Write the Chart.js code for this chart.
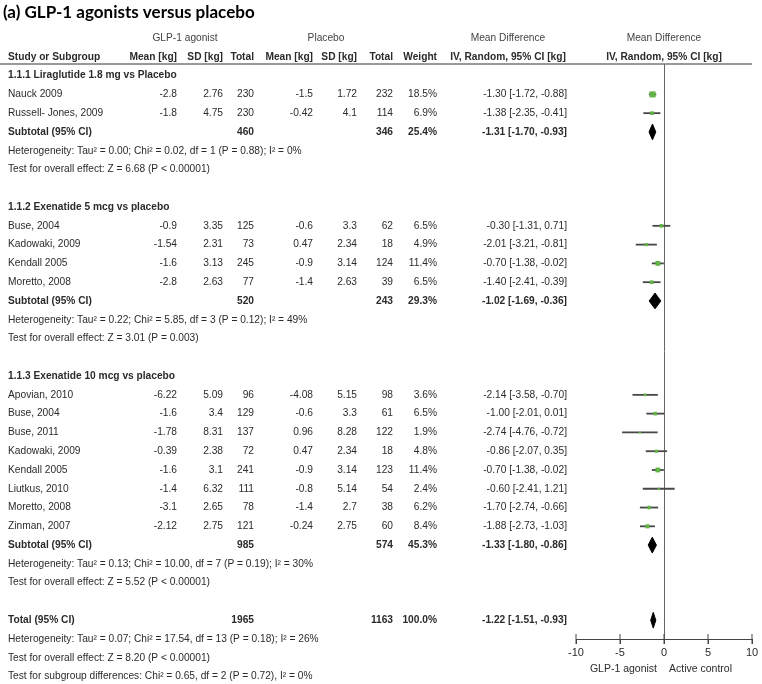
<!DOCTYPE html>
<html>
<head>
<meta charset="utf-8">
<script src="https://cdn.jsdelivr.net/npm/chart.js@4.4.1/dist/chart.umd.min.js"></script>
<style>
  html, body { margin: 0; padding: 0; background: #fff; }
  #wrap { position: relative; width: 762px; height: 684px; }
</style>
</head>
<body>
<div id="wrap"><canvas id="forest"></canvas></div>
<script>
(function () {
  'use strict';

  // ===== Data =====

  const groupTitles = [
    '1.1.1 Liraglutide 1.8 mg vs Placebo',
    '1.1.2 Exenatide 5 mcg vs placebo',
    '1.1.3 Exenatide 10 mcg vs placebo',
  ];

  const studyNames = [
    'Nauck 2009', 'Russell- Jones, 2009',
    'Buse, 2004', 'Kadowaki, 2009', 'Kendall 2005', 'Moretto, 2008',
    'Apovian, 2010', 'Buse, 2004', 'Buse, 2011', 'Kadowaki, 2009',
    'Kendall 2005', 'Liutkus, 2010', 'Moretto, 2008', 'Zinman, 2007',
  ];
  const studyGroup = [0, 0, 1, 1, 1, 1, 2, 2, 2, 2, 2, 2, 2, 2];

  const glpMean = [-2.8, -1.8, -0.9, -1.54, -1.6, -2.8, -6.22, -1.6, -1.78, -0.39, -1.6, -1.4, -3.1, -2.12];
  const glpSD = [2.76, 4.75, 3.35, 2.31, 3.13, 2.63, 5.09, 3.4, 8.31, 2.38, 3.1, 6.32, 2.65, 2.75];
  const glpTotal = [230, 230, 125, 73, 245, 77, 96, 129, 137, 72, 241, 111, 78, 121];
  const pboMean = [-1.5, -0.42, -0.6, 0.47, -0.9, -1.4, -4.08, -0.6, 0.96, 0.47, -0.9, -0.8, -1.4, -0.24];
  const pboSD = [1.72, 4.1, 3.3, 2.34, 3.14, 2.63, 5.15, 3.3, 8.28, 2.34, 3.14, 5.14, 2.7, 2.75];
  const pboTotal = [232, 114, 62, 18, 124, 39, 98, 61, 122, 18, 123, 54, 38, 60];
  const studyWeight = [18.5, 6.9, 6.5, 4.9, 11.4, 6.5, 3.6, 6.5, 1.9, 4.8, 11.4, 2.4, 6.2, 8.4];
  const mdMean = [-1.30, -1.38, -0.30, -2.01, -0.70, -1.40, -2.14, -1.00, -2.74, -0.86, -0.70, -0.60, -1.70, -1.88];
  const mdLow = [-1.72, -2.35, -1.31, -3.21, -1.38, -2.41, -3.58, -2.01, -4.76, -2.07, -1.38, -2.41, -2.74, -2.73];
  const mdHigh = [-0.88, -0.41, 0.71, -0.81, -0.02, -0.39, -0.70, 0.01, -0.72, 0.35, -0.02, 1.21, -0.66, -1.03];

  const subGlpTotal = [460, 520, 985];
  const subPboTotal = [346, 243, 574];
  const subWeight = [25.4, 29.3, 45.3];
  const subMean = [-1.31, -1.02, -1.33];
  const subLow = [-1.70, -1.69, -1.80];
  const subHigh = [-0.93, -0.36, -0.86];
  const hetText = [
    'Heterogeneity: Tau\u00b2 = 0.00; Chi\u00b2 = 0.02, df = 1 (P = 0.88); I\u00b2 = 0%',
    'Heterogeneity: Tau\u00b2 = 0.22; Chi\u00b2 = 5.85, df = 3 (P = 0.12); I\u00b2 = 49%',
    'Heterogeneity: Tau\u00b2 = 0.13; Chi\u00b2 = 10.00, df = 7 (P = 0.19); I\u00b2 = 30%',
  ];
  const effectText = [
    'Test for overall effect: Z = 6.68 (P < 0.00001)',
    'Test for overall effect: Z = 3.01 (P = 0.003)',
    'Test for overall effect: Z = 5.52 (P < 0.00001)',
  ];

  const totalGlp = 1965;
  const totalPbo = 1163;
  const totalWeight = 100.0;
  const totalMD = [-1.22, -1.51, -0.93]; // mean, low, high
  const totalNotes = [
    'Heterogeneity: Tau\u00b2 = 0.07; Chi\u00b2 = 17.54, df = 13 (P = 0.18); I\u00b2 = 26%',
    'Test for overall effect: Z = 8.20 (P < 0.00001)',
    'Test for subgroup differences: Chi\u00b2 = 0.65, df = 2 (P = 0.72), I\u00b2 = 0%',
  ];

  const xTicks = [-10, -5, 0, 5, 10];
  const favourLabels = ['GLP-1 agonist', 'Active control'];

  // ===== Layout =====

  const PLOT_TOP = 64;      // header rule / top of zero line
  const PLOT_BOTTOM = 639;  // x axis line
  const ROW0 = 75.6;        // pixel centre of the first row
  const PITCH = 18.78;      // row height
  const FONT = "'Liberation Sans', Arial, sans-serif";
  const TEXT = '#2b2b2b';
  const GREEN = '#62b346';

  const COL = {
    study: 8, glpMean: 177, glpSD: 223, glpTotal: 254,
    pboMean: 313, pboSD: 357, pboTotal: 393, weight: 437, ci: 567,
  };

  // Assign each row a slot number (one slot per text line, blank after each group)
  const rows = [];
  let slot = 0;
  groupTitles.forEach((title, g) => {
    rows.push({ kind: 'group', slot: slot++, g });
    studyNames.forEach((n, i) => {
      if (studyGroup[i] === g) rows.push({ kind: 'study', slot: slot++, i });
    });
    rows.push({ kind: 'subtotal', slot: slot++, g });
    rows.push({ kind: 'note', slot: slot++, text: hetText[g] });
    rows.push({ kind: 'note', slot: slot++, text: effectText[g] });
    slot++;
  });
  rows.push({ kind: 'total', slot: slot++ });
  totalNotes.forEach((t) => rows.push({ kind: 'note', slot: slot++, text: t }));

  const ci = (m, lo, hi) => `${m.toFixed(2)} [${lo.toFixed(2)}, ${hi.toFixed(2)}]`;
  const pct = (w) => w.toFixed(1) + '%';

  const Y_MIN = (PLOT_TOP - ROW0) / PITCH;
  const Y_MAX = (PLOT_BOTTOM - ROW0) / PITCH;

  // ===== Datasets =====

  const datasets = [];
  const studyRows = rows.filter((r) => r.kind === 'study');

  // confidence interval whiskers
  studyRows.forEach((r) => {
    datasets.push({
      type: 'line',
      data: [{ x: mdLow[r.i], y: r.slot }, { x: mdHigh[r.i], y: r.slot }],
      borderColor: '#474747',
      borderWidth: 1.8,
      pointRadius: 0,
      order: 2,
    });
  });

  // weighted squares
  datasets.push({
    type: 'scatter',
    data: studyRows.map((r) => ({ x: mdMean[r.i], y: r.slot })),
    pointStyle: 'rect',
    pointRadius: studyRows.map((r) => Math.sqrt(studyWeight[r.i]) * 1.0),
    backgroundColor: GREEN,
    borderWidth: 0,
    order: 0,
  });

  // diamonds for subtotals and total
  const H = 0.42;
  function diamond(s, m, lo, hi) {
    datasets.push({
      type: 'line',
      data: [
        { x: lo, y: s }, { x: m, y: s - H }, { x: hi, y: s }, { x: m, y: s + H }, { x: lo, y: s },
      ],
      borderColor: '#000',
      borderWidth: 1,
      backgroundColor: '#000',
      fill: 'shape',
      pointRadius: 0,
      tension: 0,
      order: 1,
    });
  }
  rows.forEach((r) => {
    if (r.kind === 'subtotal') diamond(r.slot, subMean[r.g], subLow[r.g], subHigh[r.g]);
    if (r.kind === 'total') diamond(r.slot, totalMD[0], totalMD[1], totalMD[2]);
  });

  // tick marks that cross the axis line (upper half; lower half is the scale's own tick)
  datasets.push({
    type: 'scatter',
    data: xTicks.map((v) => ({ x: v, y: Y_MAX })),
    pointStyle: 'line',
    rotation: 90,
    pointRadius: 5,
    borderColor: '#444',
    borderWidth: 1,
    clip: false,
    order: 3,
  });

  // ===== Table text =====

  const tablePlugin = {
    id: 'forestTable',
    afterDraw(chart) {
      const ctx = chart.ctx;
      const y = chart.scales.y;
      const x = chart.scales.x;
      const zeroX = x.getPixelForValue(0);

      function txt(s, px, py, align, bold, size, color) {
        ctx.font = `${bold ? 'bold ' : ''}${size || 10.2}px ${FONT}`;
        ctx.fillStyle = color || TEXT;
        ctx.textAlign = align || 'left';
        ctx.textBaseline = 'middle';
        ctx.fillText(String(s), px, py);
      }

      ctx.save();

      // title
      ctx.font = "bold 17px Lato, 'Liberation Sans', sans-serif";
      ctx.fillStyle = '#000';
      ctx.textAlign = 'left';
      ctx.textBaseline = 'middle';
      ctx.fillText('(a) GLP-1 agonists versus placebo', 3, 13);

      // headers
      const h1 = y.getPixelForValue(-2);
      const h2 = y.getPixelForValue(-1);
      txt('GLP-1 agonist', 185, h1, 'center', false, 10.2, '#444');
      txt('Placebo', 326, h1, 'center', false, 10.2, '#444');
      txt('Mean Difference', 508, h1, 'center', false, 10.2, '#444');
      txt('Mean Difference', zeroX, h1, 'center', false, 10.2, '#444');

      txt('Study or Subgroup', COL.study, h2, 'left', true);
      txt('Mean [kg]', COL.glpMean, h2, 'right', true);
      txt('SD [kg]', COL.glpSD, h2, 'right', true);
      txt('Total', COL.glpTotal, h2, 'right', true);
      txt('Mean [kg]', COL.pboMean, h2, 'right', true);
      txt('SD [kg]', COL.pboSD, h2, 'right', true);
      txt('Total', COL.pboTotal, h2, 'right', true);
      txt('Weight', COL.weight, h2, 'right', true);
      txt('IV, Random, 95% CI [kg]', 508, h2, 'center', true);
      txt('IV, Random, 95% CI [kg]', zeroX, h2, 'center', true);

      // header rule
      ctx.strokeStyle = '#777';
      ctx.lineWidth = 1.4;
      ctx.beginPath();
      ctx.moveTo(0, PLOT_TOP);
      ctx.lineTo(752, PLOT_TOP);
      ctx.stroke();

      rows.forEach((r) => {
        const py = y.getPixelForValue(r.slot);
        if (r.kind === 'group') {
          txt(groupTitles[r.g], COL.study, py, 'left', true);
        } else if (r.kind === 'study') {
          const i = r.i;
          txt(studyNames[i], COL.study, py);
          txt(glpMean[i], COL.glpMean, py, 'right');
          txt(glpSD[i], COL.glpSD, py, 'right');
          txt(glpTotal[i], COL.glpTotal, py, 'right');
          txt(pboMean[i], COL.pboMean, py, 'right');
          txt(pboSD[i], COL.pboSD, py, 'right');
          txt(pboTotal[i], COL.pboTotal, py, 'right');
          txt(pct(studyWeight[i]), COL.weight, py, 'right');
          txt(ci(mdMean[i], mdLow[i], mdHigh[i]), COL.ci, py, 'right');
        } else if (r.kind === 'subtotal') {
          const g = r.g;
          txt('Subtotal (95% CI)', COL.study, py, 'left', true);
          txt(subGlpTotal[g], COL.glpTotal, py, 'right', true);
          txt(subPboTotal[g], COL.pboTotal, py, 'right', true);
          txt(pct(subWeight[g]), COL.weight, py, 'right', true);
          txt(ci(subMean[g], subLow[g], subHigh[g]), COL.ci, py, 'right', true);
        } else if (r.kind === 'total') {
          txt('Total (95% CI)', COL.study, py, 'left', true);
          txt(totalGlp, COL.glpTotal, py, 'right', true);
          txt(totalPbo, COL.pboTotal, py, 'right', true);
          txt(pct(totalWeight), COL.weight, py, 'right', true);
          txt(ci(totalMD[0], totalMD[1], totalMD[2]), COL.ci, py, 'right', true);
        } else {
          txt(r.text, COL.study, py);
        }
      });

      // favours labels under the axis
      txt(favourLabels[0], zeroX - 7, PLOT_BOTTOM + 30, 'right', false, 10.5);
      txt(favourLabels[1], zeroX + 5, PLOT_BOTTOM + 30, 'left', false, 10.5);

      ctx.restore();
    },
  };

  // ===== Chart =====

  new Chart(document.getElementById('forest'), {
    type: 'scatter',
    data: { datasets },
    options: {
      responsive: true,
      maintainAspectRatio: false,
      animation: false,
      layout: { padding: { left: 576, right: 10, top: PLOT_TOP, bottom: 684 - PLOT_BOTTOM - 20 } },
      plugins: { legend: { display: false }, tooltip: { enabled: false } },
      scales: {
        x: {
          type: 'linear',
          min: -10,
          max: 10,
          afterBuildTicks: (scale) => { scale.ticks = xTicks.map((v) => ({ value: v })); },
          afterFit: (scale) => { scale.height = 20; },
          grid: {
            color: (c) => (c.tick && c.tick.value === 0 ? '#666' : 'rgba(0,0,0,0)'),
            tickColor: '#444',
            tickLength: 5,
            lineWidth: 1,
          },
          border: { display: true, color: '#444', width: 1 },
          ticks: { color: TEXT, padding: 2, font: { family: FONT, size: 11 } },
        },
        y: {
          type: 'linear',
          display: false,
          reverse: true,
          min: Y_MIN,
          max: Y_MAX,
        },
      },
    },
    plugins: [tablePlugin],
  });
})();
</script>
</body>
</html>
